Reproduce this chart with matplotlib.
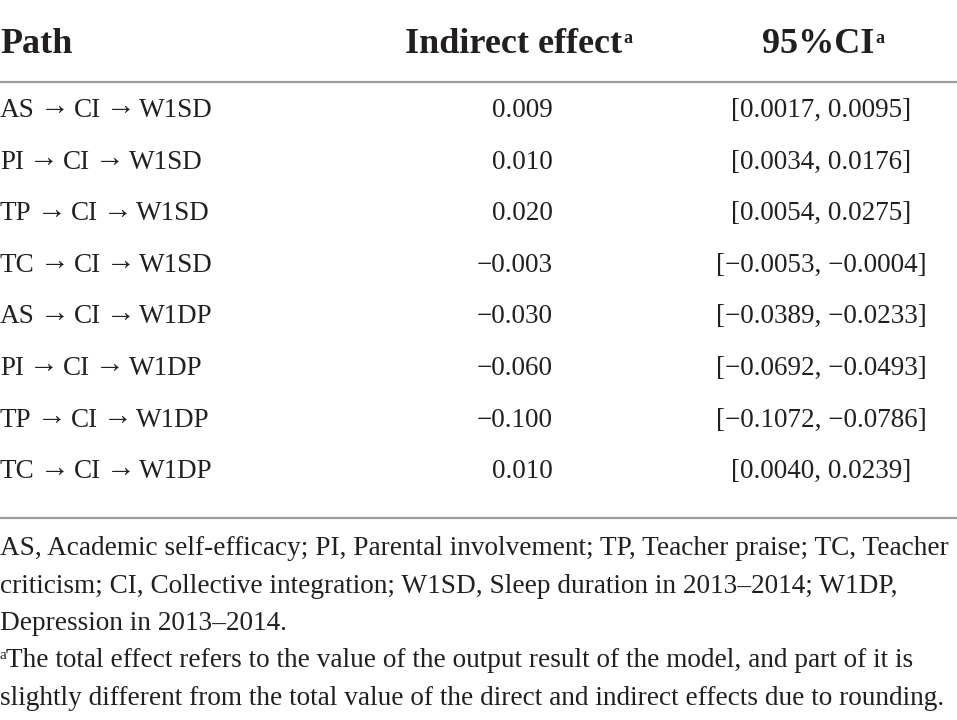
import matplotlib
matplotlib.use("Agg")
import matplotlib.pyplot as plt

paths = ["AS → CI → W1SD", "PI → CI → W1SD", "TP → CI → W1SD", "TC → CI → W1SD",
         "AS → CI → W1DP", "PI → CI → W1DP", "TP → CI → W1DP", "TC → CI → W1DP"]
indirect = ["0.009", "0.010", "0.020", "\u22120.003", "\u22120.030", "\u22120.060", "\u22120.100", "0.010"]
ci_low = ["0.0017", "0.0034", "0.0054", "\u22120.0053", "\u22120.0389", "\u22120.0692", "\u22120.1072", "0.0040"]
ci_high = ["0.0095", "0.0176", "0.0275", "\u22120.0004", "\u22120.0233", "\u22120.0493", "\u22120.0786", "0.0239"]
headers = ["Path", "Indirect effect", "95%CI"]
notes = [
    "AS, Academic self-efficacy; PI, Parental involvement; TP, Teacher praise; TC, Teacher",
    "criticism; CI, Collective integration; W1SD, Sleep duration in 2013\u20132014; W1DP,",
    "Depression in 2013\u20132014.",
    "The total effect refers to the value of the output result of the model, and part of it is",
    "slightly different from the total value of the direct and indirect effects due to rounding.",
]

FONT = "Liberation Serif"
TXT = "#231f20"
W, H = 957, 720
fig = plt.figure(figsize=(W / 100, H / 100), dpi=100)
ax = fig.add_axes([0, 0, 1, 1])
ax.set_xlim(0, W)
ax.set_ylim(H, 0)
ax.axis("off")
fig.canvas.draw()
r = fig.canvas.get_renderer()
inv = ax.transData.inverted()

def right_edge(t):
    bb = t.get_window_extent(renderer=r)
    return inv.transform((bb.x1, bb.y0))[0]

def sup_after(t, size, dy):
    x1 = right_edge(t)
    ax.text(x1 + 1, t.get_position()[1] - dy, "a", fontsize=size, family=FONT,
            color=TXT, ha="left", va="baseline", fontweight="bold")

# header
hs = 26
t0 = ax.text(0, 53, headers[0], fontsize=hs, fontweight="bold", family=FONT, color=TXT, va="baseline")
t1 = ax.text(405, 53, headers[1], fontsize=hs, fontweight="bold", family=FONT, color=TXT, va="baseline")
t2 = ax.text(818, 53, headers[2], fontsize=hs, fontweight="bold", family=FONT, color=TXT,
             va="baseline", ha="center")
sup_after(t1, 13, 10)
sup_after(t2, 13, 10)

ax.plot([0, W], [82, 82], color="#9d9d9d", lw=1.6, solid_capstyle="butt")
ax.plot([0, W], [518, 518], color="#9d9d9d", lw=1.6, solid_capstyle="butt")

ds = 19.5
y0, dy = 117, 51.6
for i in range(len(paths)):
    y = y0 + i * dy
    parts = paths[i].split(" → ")
    x = 0
    for j, p in enumerate(parts):
        t = ax.text(x, y, p, fontsize=ds, family=FONT, color=TXT, va="baseline")
        x = right_edge(t)
        if j < len(parts) - 1:
            ta = ax.text(x + 5, y - 3.5, "→", fontsize=ds * 1.1, family=FONT, color=TXT, va="baseline")
            x = right_edge(ta) + 4
    ax.text(553, y, indirect[i], fontsize=ds, family=FONT, color=TXT, va="baseline", ha="right")
    ax.text(821, y, "[" + ci_low[i] + ", " + ci_high[i] + "]", fontsize=ds, family=FONT,
            color=TXT, va="baseline", ha="center")

ns = 19.6
ny = [555, 593, 630, 667, 705]
for i, line in enumerate(notes):
    x = 0
    if i == 3:
        ax.text(0, ny[i] - 8, "a", fontsize=11, family=FONT, color=TXT, va="baseline")
        x = 6
    ax.text(x, ny[i], line, fontsize=ns, family=FONT, color=TXT, va="baseline")

fig.savefig("out.png", dpi=100, facecolor="white")
